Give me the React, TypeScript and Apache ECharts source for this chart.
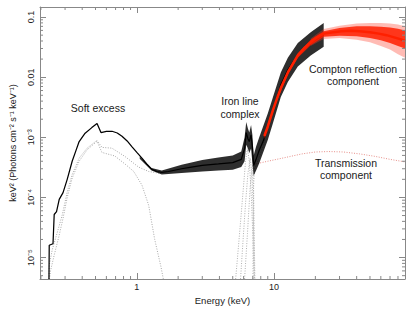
import React, { useEffect, useRef } from "react";
import * as echarts from "echarts";

const FONT = "'Liberation Sans', Arial, Helvetica, sans-serif";

const X_MIN = 0.197;
const X_MAX = 90;
const Y_MIN = 4.4e-6;
const Y_MAX = 0.147;

const xTickValues = [1, 10];
const xTickTexts = ["1", "10"];
const yTickValues = [0.1, 0.01, 0.001, 0.0001, 0.00001];
const yTickTexts = ["0.1", "0.01", "10⁻³", "10⁻⁴", "10⁻⁵"];

// Observed spectrum (black), centre of the data points
const blackSpectrum: [number, number][] = [
  [0.229, 4.4e-6], [0.23, 1.6e-5], [0.245, 1.7e-5], [0.25, 5.2e-5], [0.26, 5.8e-5],
  [0.272, 9.3e-5], [0.29, 1.2e-4], [0.311, 2.0e-4], [0.338, 4.0e-4], [0.36, 6.0e-4],
  [0.38, 8.5e-4], [0.42, 1.17e-3], [0.47, 1.45e-3], [0.513, 1.7e-3], [0.548, 1.2e-3],
  [0.6, 1.25e-3], [0.66, 1.26e-3], [0.72, 1.18e-3], [0.78, 1.04e-3], [0.85, 8.7e-4],
  [0.92, 7.0e-4], [1.0, 5.6e-4], [1.09, 4.5e-4], [1.18, 3.6e-4], [1.28, 2.95e-4],
  [1.4, 2.7e-4], [1.52, 2.6e-4], [1.7, 2.7e-4], [2.12, 3.0e-4], [2.5, 3.2e-4],
  [3.0, 3.4e-4], [3.93, 3.6e-4], [5.0, 3.8e-4], [5.77, 4.3e-4], [6.1, 6.5e-4],
  [6.27, 1.2e-3], [6.45, 9.5e-4], [6.6, 8.5e-4], [6.8, 1.1e-3], [6.95, 7.0e-4],
  [7.1, 3.4e-4], [7.4, 4.3e-4], [7.8, 6.1e-4], [8.4, 9.0e-4], [9.0, 1.5e-3],
  [9.8, 2.8e-3], [10.5, 4.5e-3], [11.2, 7.5e-3], [12.6, 1.33e-2], [14.9, 2.35e-2],
  [16.5, 2.9e-2], [18.5, 3.6e-2], [20.5, 4.3e-2], [23, 5.0e-2],
];

// Scatter envelope of the black data (error bars)
const blackBandE = [1.05, 1.28, 1.52, 2.12, 3.0, 3.93, 5.0, 5.77, 6.1, 6.27, 6.45, 6.6, 6.8, 6.95, 7.1, 7.4, 7.8, 9.0, 9.8, 11.2, 12.6, 14.9, 18.5, 23];
const blackBandLo = [4.4e-4, 2.8e-4, 2.4e-4, 2.55e-4, 2.7e-4, 2.8e-4, 2.9e-4, 3.2e-4, 4.0e-4, 7.5e-4, 6.5e-4, 5.5e-4, 6.5e-4, 3.8e-4, 2.3e-4, 2.8e-4, 3.7e-4, 9.0e-4, 1.7e-3, 4.7e-3, 8.3e-3, 1.5e-2, 2.3e-2, 3.2e-2];
const blackBandHi = [4.8e-4, 3.1e-4, 2.8e-4, 3.5e-4, 4.2e-4, 4.6e-4, 5.0e-4, 5.8e-4, 1.0e-3, 1.8e-3, 1.4e-3, 1.2e-3, 1.6e-3, 1.1e-3, 5.0e-4, 7.0e-4, 1.0e-3, 2.5e-3, 4.6e-3, 1.2e-2, 2.1e-2, 3.7e-2, 5.6e-2, 8.0e-2];

// Compton reflection component (red)
const reflection: [number, number][] = [
  [8.5, 1.05e-3], [9.0, 1.5e-3], [9.8, 2.8e-3], [10.5, 4.4e-3], [11.2, 6.6e-3],
  [12.6, 1.2e-2], [14.9, 2.3e-2], [16.5, 3.0e-2], [18.5, 3.8e-2], [20.5, 4.6e-2],
  [23, 5.3e-2], [27, 5.6e-2], [31, 5.8e-2], [36, 5.9e-2], [42, 5.8e-2], [50, 5.6e-2],
  [58, 5.3e-2], [66, 5.0e-2], [75, 4.6e-2], [83, 4.3e-2], [90, 4.0e-2],
];
const redBandE = [8.5, 10.5, 12.6, 14.9, 18.5, 23, 30, 40, 50, 60, 70, 80, 90];
const redBandLo = [0.95e-3, 4.0e-3, 1.1e-2, 2.1e-2, 3.4e-2, 4.7e-2, 4.9e-2, 4.8e-2, 4.5e-2, 4.1e-2, 3.7e-2, 3.3e-2, 3.0e-2];
const redBandHi = [1.15e-3, 4.8e-3, 1.3e-2, 2.5e-2, 4.2e-2, 5.8e-2, 6.6e-2, 7.0e-2, 7.0e-2, 6.9e-2, 6.7e-2, 6.4e-2, 6.0e-2];
// Outer fringe of the red scatter (paler spikes)
const redFringeE = [18.5, 23, 30, 40, 50, 60, 70, 80, 90];
const redFringeLo = [3.3e-2, 4.3e-2, 4.5e-2, 4.2e-2, 3.8e-2, 3.3e-2, 2.9e-2, 2.4e-2, 2.1e-2];
const redFringeHi = [4.4e-2, 6.3e-2, 7.2e-2, 7.8e-2, 8.0e-2, 8.0e-2, 7.8e-2, 7.5e-2, 7.0e-2];

// Transmission component (pale red dotted)
const transmission: [number, number][] = [
  [7.3, 3.6e-4], [9, 4.0e-4], [12, 4.6e-4], [16, 5.3e-4], [20, 5.7e-4], [25, 5.8e-4],
  [32, 5.7e-4], [42, 5.3e-4], [55, 4.8e-4], [70, 4.3e-4], [90, 3.9e-4],
];

// Model components (grey dotted)
const softTotal: [number, number][] = [
  [0.229, 4.4e-6], [0.23, 7.4e-6], [0.242, 1.35e-5], [0.263, 2.6e-5], [0.286, 5.1e-5],
  [0.311, 1.23e-4], [0.338, 2.4e-4], [0.38, 4.5e-4], [0.434, 6.6e-4], [0.513, 8.9e-4],
  [0.557, 6.8e-4], [0.659, 6.6e-4], [0.82, 4.8e-4], [1.03, 3.2e-4], [1.22, 2.7e-4], [1.5, 2.5e-4],
];
const softExcess: [number, number][] = [
  [0.231, 4.4e-6], [0.235, 6.0e-6], [0.25, 1.1e-5], [0.27, 2.2e-5], [0.29, 4.5e-5],
  [0.311, 1.0e-4], [0.338, 2.1e-4], [0.38, 4.0e-4], [0.434, 6.2e-4], [0.513, 8.6e-4],
  [0.557, 5.6e-4], [0.69, 4.9e-4], [0.82, 3.6e-4], [0.95, 2.7e-4], [1.09, 1.6e-4],
  [1.22, 7.4e-5], [1.35, 2.0e-5], [1.5, 7.0e-6], [1.56, 4.4e-6],
];
const feKa: [number, number][] = [
  [5.25, 4.4e-6], [5.5, 1.5e-5], [5.75, 5.0e-5], [6.0, 1.6e-4], [6.2, 4.0e-4], [6.4, 6.5e-4],
  [6.6, 4.0e-4], [6.8, 1.3e-4], [7.0, 2.5e-5], [7.15, 4.4e-6],
];
const feXXV: [number, number][] = [
  [5.7, 4.4e-6], [5.95, 2.0e-5], [6.2, 8.0e-5], [6.45, 2.5e-4], [6.7, 4.5e-4],
  [6.9, 2.5e-4], [7.05, 6.0e-5], [7.2, 4.4e-6],
];
const feXXVI: [number, number][] = [
  [6.1, 4.4e-6], [6.4, 2.5e-5], [6.7, 1.5e-4], [6.97, 3.5e-4], [7.1, 1.2e-4], [7.25, 4.4e-6],
];
const reflectionLow: [number, number][] = [
  [7.02, 4.4e-6], [7.05, 3.5e-5], [7.1, 1.6e-4], [7.2, 3.0e-4], [7.5, 3.8e-4], [8.0, 5.5e-4], [8.5, 9.0e-4],
];

const minorMultipliers = [2, 3, 4, 5, 6, 7, 8, 9];
function minorTicks(lo: number, hi: number): number[] {
  const out: number[] = [];
  for (let d = Math.floor(Math.log10(lo)); d <= Math.ceil(Math.log10(hi)); d++) {
    for (const m of minorMultipliers) {
      const v = m * Math.pow(10, d);
      if (v > lo * 1.001 && v < hi * 0.999) out.push(v);
    }
  }
  return out;
}
const xMinorTicks = minorTicks(X_MIN, X_MAX);
const yMinorTicks = minorTicks(Y_MIN, Y_MAX);

function labelFor(values: number[], texts: string[]) {
  return (v: number) => {
    for (let i = 0; i < values.length; i++) {
      if (Math.abs(Math.log10(v) - Math.log10(values[i])) < 1e-6) return texts[i];
    }
    return "";
  };
}

function bandSeries(E: number[], lo: number[], hi: number[], color: string, z: number) {
  return {
    type: "custom",
    silent: true,
    z,
    clip: true,
    data: [[E[0], lo[0]]],
    renderItem: (_params: any, api: any) => {
      const pts: number[][] = [];
      for (let i = 0; i < E.length; i++) pts.push(api.coord([E[i], lo[i]]));
      for (let i = E.length - 1; i >= 0; i--) pts.push(api.coord([E[i], hi[i]]));
      return { type: "polygon", shape: { points: pts }, style: { fill: color } };
    },
  };
}

function dotted(data: [number, number][], color: string, z = 2) {
  return {
    type: "line",
    data,
    showSymbol: false,
    symbol: "none",
    silent: true,
    z,
    lineStyle: { color, width: 1, type: [1, 1.5] },
  };
}

const TICK_COLOR = "#888";

export default function App() {
  const ref = useRef<HTMLDivElement>(null);
  useEffect(() => {
    if (!ref.current) return;
    const chart = echarts.init(ref.current, undefined, { renderer: "svg" });
    const axisCommon = {
      type: "log",
      logBase: 10,
      splitLine: { show: false },
      axisLine: { show: true, lineStyle: { color: TICK_COLOR, width: 1 } },
      axisTick: { show: true, inside: true, length: 6, lineStyle: { color: TICK_COLOR, width: 1 } },
    };
    chart.setOption({
      animation: false,
      backgroundColor: "#fff",
      grid: { left: 38, right: 10, top: 7, bottom: 34 },
      xAxis: [
        {
          ...axisCommon,
          min: X_MIN,
          max: X_MAX,
          position: "bottom",
          name: "Energy (keV)",
          nameLocation: "middle",
          nameGap: 13,
          nameTextStyle: { fontSize: 9.5, color: "#222", fontFamily: FONT },
          axisLabel: {
            formatter: labelFor(xTickValues, xTickTexts),
            fontSize: 9,
            color: "#222",
            margin: 3,
            fontFamily: FONT,
          },
        },
        {
          ...axisCommon,
          min: X_MIN,
          max: X_MAX,
          position: "top",
          axisLabel: { show: false },
        },
      ],
      yAxis: [
        {
          ...axisCommon,
          min: Y_MIN,
          max: Y_MAX,
          position: "left",
          name: "keV² (Photons cm⁻² s⁻¹ keV⁻¹)",
          nameLocation: "middle",
          nameGap: 23,
          nameTextStyle: { fontSize: 9, color: "#222", fontFamily: FONT },
          axisLabel: {
            formatter: labelFor(yTickValues, yTickTexts),
            rotate: 90,
            fontSize: 9,
            color: "#222",
            margin: 5,
            fontFamily: FONT,
          },
        },
        {
          ...axisCommon,
          min: Y_MIN,
          max: Y_MAX,
          position: "right",
          axisLabel: { show: false },
        },
      ],
      series: [
        dotted(softTotal, "#a8a8a8"),
        dotted(softExcess, "#a8a8a8"),
        dotted(feKa, "#b0b0b0"),
        dotted(feXXV, "#b0b0b0"),
        dotted(feXXVI, "#b0b0b0"),
        dotted(reflectionLow, "#b0b0b0"),
        dotted(transmission, "#e8908a", 3),
        bandSeries(blackBandE, blackBandLo, blackBandHi, "rgba(0,0,0,0.82)", 4),
        {
          type: "line",
          data: blackSpectrum,
          showSymbol: false,
          symbol: "none",
          silent: true,
          z: 5,
          lineStyle: { color: "#000", width: 1.25 },
        },
        bandSeries(redFringeE, redFringeLo, redFringeHi, "rgba(255,60,40,0.35)", 6),
        bandSeries(redBandE, redBandLo, redBandHi, "rgba(255,30,0,0.85)", 6),
        {
          type: "line",
          data: reflection,
          showSymbol: false,
          symbol: "none",
          silent: true,
          z: 7,
          lineStyle: { color: "#ff2000", width: 2.5 },
        },
        {
          type: "custom",
          silent: true,
          z: 10,
          data: xMinorTicks.map((v) => [v, Y_MIN]),
          renderItem: (params: any, api: any) => {
            const cs = params.coordSys;
            const x = api.coord([api.value(0), Y_MIN])[0];
            const yb = cs.y + cs.height;
            return {
              type: "group",
              children: [
                { type: "line", shape: { x1: x, y1: yb, x2: x, y2: yb - 3 }, style: { stroke: TICK_COLOR, lineWidth: 1 } },
                { type: "line", shape: { x1: x, y1: cs.y, x2: x, y2: cs.y + 3 }, style: { stroke: TICK_COLOR, lineWidth: 1 } },
              ],
            };
          },
        },
        {
          type: "custom",
          silent: true,
          z: 10,
          data: yMinorTicks.map((v) => [X_MIN, v]),
          renderItem: (params: any, api: any) => {
            const cs = params.coordSys;
            const y = api.coord([X_MIN, api.value(1)])[1];
            const xr = cs.x + cs.width;
            return {
              type: "group",
              children: [
                { type: "line", shape: { x1: cs.x, y1: y, x2: cs.x + 3, y2: y }, style: { stroke: TICK_COLOR, lineWidth: 1 } },
                { type: "line", shape: { x1: xr, y1: y, x2: xr - 3, y2: y }, style: { stroke: TICK_COLOR, lineWidth: 1 } },
              ],
            };
          },
        },
      ],
      graphic: [
        { type: "text", x: 98, y: 108, z: 20, style: { text: "Soft excess", fontSize: 10.5, fontFamily: FONT, fill: "#1a1a1a", align: "center", verticalAlign: "middle" } },
        { type: "text", x: 240, y: 107.5, z: 20, style: { text: "Iron line\ncomplex", fontSize: 10.5, lineHeight: 13, fontFamily: FONT, fill: "#1a1a1a", align: "center", verticalAlign: "middle" } },
        { type: "text", x: 353, y: 75, z: 20, style: { text: "Compton reflection\ncomponent", fontSize: 10.5, lineHeight: 12, fontFamily: FONT, fill: "#1a1a1a", align: "center", verticalAlign: "middle" } },
        { type: "text", x: 346, y: 169, z: 20, style: { text: "Transmission\ncomponent", fontSize: 10.5, lineHeight: 12, fontFamily: FONT, fill: "#1a1a1a", align: "center", verticalAlign: "middle" } },
      ],
    });
    return () => chart.dispose();
  }, []);
  return (
    <div
      ref={ref}
      style={{ position: "fixed", left: 0, top: 0, width: 415, height: 313, background: "#fff" }}
    />
  );
}
